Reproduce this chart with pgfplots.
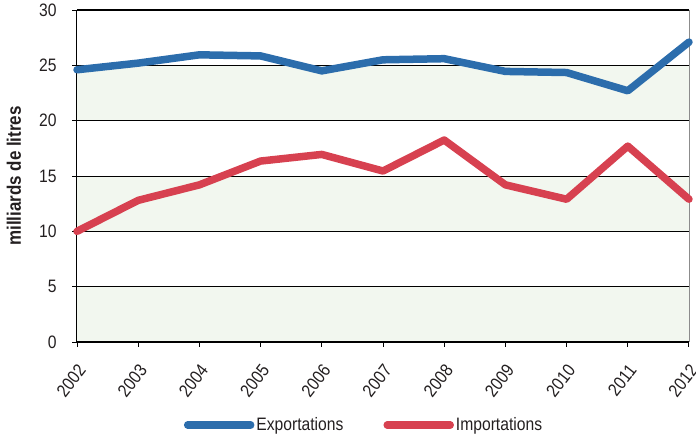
\documentclass[border=0pt]{standalone}
\usepackage{fontspec}
\setmainfont{Liberation Sans}[FakeStretch=0.87]
\usepackage{pgfplots}
\pgfplotsset{compat=1.18}

\definecolor{expblue}{HTML}{2C6DAC}
\definecolor{impred}{HTML}{D74150}
\definecolor{band}{HTML}{F2F7EF}
\definecolor{ink}{HTML}{231F20}
\definecolor{edge}{HTML}{8C8C8C}

\pgfplotstableread{
year exp  imp
2002 24.60 10.00
2003 25.20 12.80
2004 25.95 14.20
2005 25.85 16.35
2006 24.50 16.95
2007 25.50 15.45
2008 25.60 18.25
2009 24.45 14.20
2010 24.35 12.90
2011 22.70 17.70
2012 27.10 12.90
}\flows

\begin{document}
\begin{tikzpicture}
\begin{axis}[
  set layers,
  scale only axis,
  width=612pt, height=332pt,
  xmin=2002, xmax=2012, ymin=0, ymax=30,
  xtick={2002,...,2012}, ytick={0,5,...,30},
  axis lines*=left,
  tick align=outside,
  major tick length=5pt,
  tick style={black, line width=0.9pt},
  axis line style={black, line width=1pt},
  ymajorgrids,
  grid style={black, line width=0.8pt},
  /pgf/number format/assume math mode=true,
  /pgf/number format/1000 sep={},
  ticklabel style={text=ink, font=\fontsize{18}{21}\selectfont},
  yticklabel style={xshift=-12pt},
  xticklabel style={xshift=7pt, yshift=-17pt, rotate=52, anchor=east},
  ylabel={milliards de litres},
  every axis y label/.style={at={(axis description cs:-0.103,0.5)},
    rotate=90, anchor=center, text=ink,
    font=\bfseries\fontsize{19.5}{22}\selectfont},
  clip=false,
  legend columns=2,
  legend style={at={(axis description cs:0.469,-0.25)}, anchor=center,
    draw=none, fill=none, text=ink,
    font=\fontsize{18}{21}\selectfont,
    /tikz/every even column/.append style={column sep=38pt}},
  legend image code/.code={
    \draw[#1, line width=7.5pt, line cap=round] (3.75pt,0pt) -- (55.25pt,0pt);
    \path (0pt,0pt) -- (63pt,0pt);},
]
  \begin{pgfonlayer}{axis background}
    \fill[band] (axis cs:2002,0)  rectangle (axis cs:2012,5);
    \fill[band] (axis cs:2002,10) rectangle (axis cs:2012,15);
    \fill[band] (axis cs:2002,20) rectangle (axis cs:2012,25);
    \draw[edge, line width=1pt] (rel axis cs:1,0) -- (rel axis cs:1,1);
    \draw[black, line width=1pt] (rel axis cs:0,1) -- (rel axis cs:1,1);
  \end{pgfonlayer}
  \coordinate (o) at (rel axis cs:0,0);

  \addplot[expblue, line width=7.5pt, line join=round, line cap=round]
    table[x=year, y=exp] {\flows};
  \addlegendentry{Exportations}
  \addplot[impred, line width=7.5pt, line join=round, line cap=round]
    table[x=year, y=imp] {\flows};
  \addlegendentry{Importations}
\end{axis}
\pgfresetboundingbox
\path (o) ++(-77pt,-94pt) rectangle ++(696pt,436pt);
\end{tikzpicture}
\end{document}
